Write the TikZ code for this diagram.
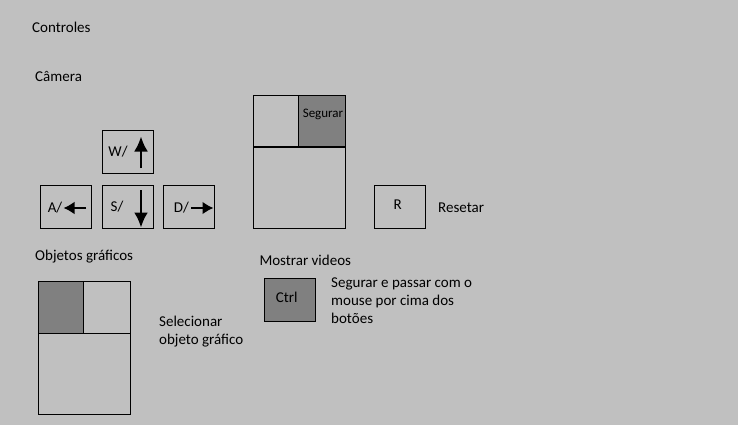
\documentclass[tikz,border=0pt]{standalone}
\usepackage{fontspec}
\setmainfont{Carlito}
\usetikzlibrary{arrows.meta}
\definecolor{fundo}{RGB}{192,192,192}
\definecolor{cinza}{RGB}{128,128,128}

\begin{document}
\begin{tikzpicture}[x=1pt,y=-1pt,
  key/.style={draw, line width=1.3pt, minimum width=51pt, minimum height=43pt, inner sep=0pt},
  txt/.style={font=\fontsize{15}{18}\selectfont, inner sep=0pt},
  vseta/.style={-{Latex[length=15pt,width=14pt]}, line width=2.5pt},
  hseta/.style={-{Latex[length=11pt,width=13pt]}, line width=2.5pt}]
\fill[fundo] (0,0) rectangle (738,425);
\useasboundingbox (0,0) rectangle (738,425);

\node[txt, anchor=west] (titulo) at (32,27) {Controles};
\node[txt, anchor=west] (camera) at (35,76) {Câmera};

% teclas de movimento
\node[key] (w) at (127.8,151.7) {};
\node[key] (a) at (65.7,206.8) {};
\node[key] (s) at (127.8,206.8) {};
\node[key] (d) at (188.8,206.8) {};
\node[txt] (wl) at (118,152) {W/};
\node[txt] (al) at (55,208) {A/};
\node[txt] (sl) at (117,207) {S/};
\node[txt] (dl) at (181.5,208) {D/};
\draw[vseta] (141,168) -- (141,136.5);
\draw[vseta] (141,190) -- (141,227.5);
\draw[hseta] (86,208) -- (63.5,208);
\draw[hseta] (191,208) -- (213.5,208);

% mouse
\draw[fill=cinza, line width=1.3pt] (298.3,95.3) rectangle (345.3,147);
\draw[line width=1.3pt] (253.3,95.3) rectangle (345.3,228.3);
\draw[line width=1.3pt] (253.3,147) -- (345.3,147);
\node[font=\fontsize{13}{16}\selectfont, inner sep=0pt] (segurar) at (323,114) {Segurar};

\node[key] (r) at (399.8,206.8) {};
\node[txt] (rl) at (397.7,205) {R};
\node[txt, anchor=west] (resetar) at (438,207.7) {Resetar};

% objetos graficos
\node[txt, anchor=west] (objetos) at (35,256.7) {Objetos gráficos};
\draw[fill=cinza, line width=1.3pt] (38.3,281.3) rectangle (83.3,333.3);
\draw[line width=1.3pt] (38.3,281.3) rectangle (130.3,414.3);
\draw[line width=1.3pt] (83.3,333.3) -- (130.3,333.3);
\node[txt, anchor=north west, align=left] (selecionar) at (159,316) {Selecionar\\objeto gráfico};

% videos
\node[txt, anchor=west] (mostrar) at (259.3,260.7) {Mostrar videos};
\node[key, fill=cinza] (ctrl) at (289.8,299.7) {};
\node[txt] (ctrll) at (286.7,297.3) {Ctrl};
\node[txt, anchor=north west, align=left] (passar) at (331,278) {Segurar e passar com o\\mouse por cima dos\\botões};
\end{tikzpicture}
\end{document}
